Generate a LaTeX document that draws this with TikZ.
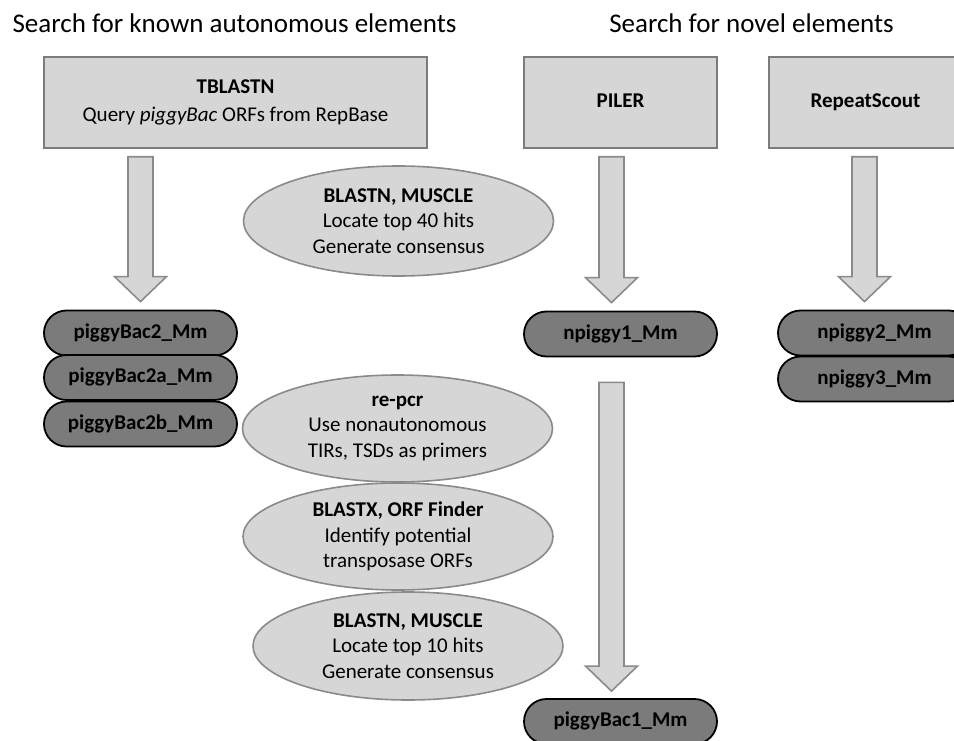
\documentclass[tikz,border=0pt]{standalone}
\usepackage{fontspec}
\setmainfont{Carlito}
\usepackage{tikz}
\usetikzlibrary{positioning, shapes.geometric, shapes.misc, calc}
\definecolor{boxfill}{HTML}{D6D6D6}
\definecolor{boxline}{HTML}{7C7C7C}
\definecolor{capsfill}{HTML}{7B7B7B}
\definecolor{ellfill}{HTML}{D6D6D6}
\definecolor{ellline}{HTML}{8A8A8A}

\tikzset{
    title/.style={font=\fontsize{27}{32}\selectfont, inner sep=0pt},
    toolbox/.style={rectangle, draw=boxline, fill=boxfill, line width=1.6pt,
        minimum width=193pt, minimum height=91pt, align=center,
        font=\fontsize{21}{28}\selectfont},
    onelinebox/.style={toolbox, text height=15pt, text depth=5pt},
    hit/.style={rounded rectangle, draw=black, fill=capsfill, line width=1.8pt,
        minimum width=193pt, minimum height=45pt, inner sep=0pt,
        text height=15pt, text depth=5pt,
        font=\fontsize{21}{25}\selectfont\bfseries},
    stepell/.style={ellipse, draw=ellline, fill=ellfill, line width=1.6pt,
        minimum width=310pt, minimum height=108pt, inner sep=0pt, align=center,
        font=\fontsize{21}{25.5}\selectfont},
    fatarrow/.style={draw=ellline, fill=ellfill, line width=1.6pt, line join=miter,
        to path={let \p1=(\tikztostart), \p2=(\tikztotarget) in
            (\x1-12.5pt,\y1) -- (\x1-12.5pt,\y2+25pt) -- (\x1-26pt,\y2+25pt) -- (\x1,\y2)
            -- (\x1+26pt,\y2+25pt) -- (\x1+12.5pt,\y2+25pt) -- (\x1+12.5pt,\y1) -- cycle}}
}

\begin{document}
\begin{tikzpicture}[x=1pt, y=-1pt]
    \useasboundingbox (0,0) rectangle (954,741);

    \node[title, anchor=base] (known) at (234.5, 33) {Search for known autonomous elements};
    \node[title, anchor=base] (novel) at (751.5, 33) {Search for novel elements};

    \node[toolbox, minimum width=383pt] (tblastn) at (235.5, 102.5)
        {\textbf{TBLASTN}\\Query \textit{piggyBac} ORFs from RepBase};
    \node[onelinebox] (piler) at (620.5, 102.5) {\textbf{PILER}};
    \node[onelinebox] (rscout) at (865.5, 102.5) {\textbf{RepeatScout}};

    \node[hit] (pb2) at (140.5, 333) {piggyBac2\_Mm};
    \node[hit] (pb2a) at (140.5, 377.5) {piggyBac2a\_Mm};
    \node[hit] (pb2b) at (140.5, 424) {piggyBac2b\_Mm};
    \node[hit] (np1) at (620.5, 334) {npiggy1\_Mm};
    \node[hit] (np2) at (874.5, 333) {npiggy2\_Mm};
    \node[hit] (np3) at (874.5, 379) {npiggy3\_Mm};
    \node[hit] (pb1) at (620.5, 721.5) {piggyBac1\_Mm};

    \node[stepell, minimum height=110pt] (muscle40) at (398.5, 221)
        {\textbf{BLASTN, MUSCLE}\\Locate top 40 hits\\Generate consensus};
    \node[stepell, minimum height=107pt] (repcr) at (397.5, 428.5)
        {\textbf{re-pcr}\\Use nonautonomous\\TIRs, TSDs as primers};
    \node[stepell, minimum height=107pt] (blastx) at (398, 536.5)
        {\textbf{BLASTX, ORF Finder}\\Identify potential\\transposase ORFs};
    \node[stepell] (muscle10) at (408, 646)
        {\textbf{BLASTN, MUSCLE}\\Locate top 10 hits\\Generate consensus};

    \draw[fatarrow] ($(tblastn.south -| pb2.north)+(0,8)$) to ($(pb2.north)+(0,-8)$);
    \draw[fatarrow] ($(piler.south)+(-9,8)$) to ($(np1.north)+(-9,-8)$);
    \draw[fatarrow] ($(rscout.south -| np2.north)+(-10,8)$) to ($(np2.north)+(-10,-8)$);
    \draw[fatarrow] ($(np1.south)+(-9,25)$) to ($(pb1.north)+(-9,-7)$);
\end{tikzpicture}
\end{document}
